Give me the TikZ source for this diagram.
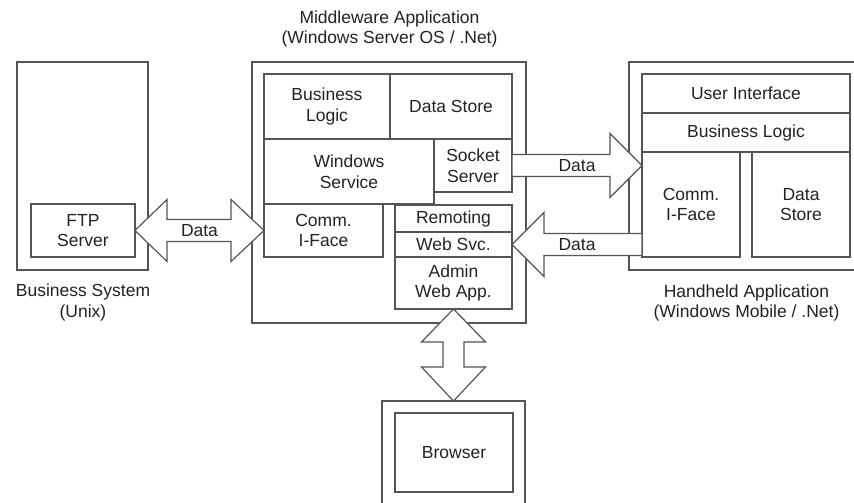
\documentclass[tikz,border=0pt]{standalone}
\usepackage{fontspec}
\setmainfont{Liberation Sans}
\usetikzlibrary{calc}
\definecolor{linec}{RGB}{85,85,85}
\definecolor{textc}{RGB}{35,35,35}
\newcommand{\dfont}{\fontsize{17.5}{20.5}\selectfont}
\begin{document}
\begin{tikzpicture}[x=1pt,y=-1pt,
  box/.style={draw=linec, line width=1.2pt, inner sep=0pt, outer sep=0pt,
    anchor=north west, align=center, font=\dfont, text=textc},
  lbl/.style={align=center, font=\dfont, text=textc, inner sep=0pt},
  blockarrow/.style={draw=linec, fill=white, line width=1.2pt, line join=miter}]
\useasboundingbox (0,0) rectangle (854,503);
\clip (0,0) rectangle (854,503);
\fill[white] (0,0) rectangle (854,503);

% Business system
\node[box, minimum width=131pt, minimum height=208pt] (bsys) at (17,62) {};
\node[box, minimum width=104pt, minimum height=53pt] (ftp) at (31,204) {FTP\\Server};
\node[lbl] (bsyslbl) at (83,302.5) {Business System\\(Unix)};

% Middleware
\node[box, minimum width=274pt, minimum height=261pt] (mw) at (252,62) {};
\node[box, minimum width=126pt, minimum height=65pt] (bl) at (264,74) {Business\\Logic};
\node[box, minimum width=122pt, minimum height=65pt] (ds) at (390,74) {Data Store};
\node[box, minimum width=170pt, minimum height=65pt] (ws) at (264,139) {Windows\\Service};
\node[box, minimum width=78pt, minimum height=53pt] (ss) at (434,139) {Socket\\Server};
\node[box, minimum width=119pt, minimum height=53pt] (ci) at (264,204) {Comm.\\I-Face};
\node[box, minimum width=117pt, minimum height=27pt] (rem) at (395,205) {Remoting};
\node[box, minimum width=117pt, minimum height=25pt] (wsv) at (395,232) {Web Svc.};
\node[box, minimum width=117pt, minimum height=52pt] (adm) at (395,257) {Admin\\Web App.};
\node[lbl] (mwlbl) at (389.5,29) {Middleware Application\\(Windows Server OS / .Net)};

% Handheld
\node[box, minimum width=241pt, minimum height=208pt] (hh) at (629,62) {};
\node[box, minimum width=208pt, minimum height=39pt] (ui) at (642,74) {User Interface};
\node[box, minimum width=208pt, minimum height=39pt] (hbl) at (642,113) {Business Logic};
\node[box, minimum width=98pt, minimum height=105pt] (hci) at (642,152) {Comm.\\I-Face};
\node[box, minimum width=98pt, minimum height=105pt] (hds) at (752,152) {Data\\Store};
\node[lbl] (hhlbl) at (746.5,303) {Handheld Application\\(Windows Mobile / .Net)};

% Browser
\node[box, minimum width=143pt, minimum height=120pt] (br) at (382,401) {};
\node[box, minimum width=118pt, minimum height=79pt] (bri) at (395,413) {Browser};

% Arrow A: FTP <-> Comm. I-Face
\coordinate (aL) at (ftp.east);
\coordinate (aR) at (ci.west);
\draw[blockarrow] (aL) -- ++(32,-31) -- ++(0,20) -- ($(aR)+(-33,-11)$) -- ++(0,-20)
  -- (aR) -- ++(-33,31) -- ++(0,-20) -- ($(aL)+(32,11)$) -- ++(0,20) -- cycle;
\node[lbl] (dA) at ($(aL)!0.5!(aR)$) {Data};

% Arrow B: Socket Server -> handheld Comm. I-Face
\coordinate (bS) at (ss.east);
\coordinate (bT) at (hci.west |- ss.east);
\draw[blockarrow] ($(bS)+(0,-11)$) -- ($(bT)+(-32,-11)$) -- ++(0,-21) -- (bT)
  -- ($(bT)+(-32,32)$) -- ++(0,-21) -- ($(bS)+(0,11)$) -- cycle;
\node[lbl] (dB) at ($(bS)!0.5!(bT)$) {Data};

% Arrow C: handheld Comm. I-Face -> Web Svc.
\coordinate (cT) at (wsv.east);
\coordinate (cS) at (hci.west |- wsv.east);
\draw[blockarrow] ($(cS)+(0,-11)$) -- ($(cT)+(32,-11)$) -- ++(0,-21) -- (cT)
  -- ($(cT)+(32,32)$) -- ++(0,-21) -- ($(cS)+(0,11)$) -- cycle;
\node[lbl] (dC) at ($(cS)!0.5!(cT)$) {Data};

% Arrow D: Admin Web App <-> Browser
\coordinate (dT) at (adm.south);
\coordinate (dB2) at (br.north);
\draw[blockarrow] (dT) -- ++(32,33) -- ++(-21.5,0) -- ($(dB2)+(10.5,-34)$) -- ++(21.5,0)
  -- (dB2) -- ++(-32,-34) -- ++(21.5,0) -- ($(dT)+(-10.5,33)$) -- ++(-21.5,0) -- cycle;
\end{tikzpicture}
\end{document}
